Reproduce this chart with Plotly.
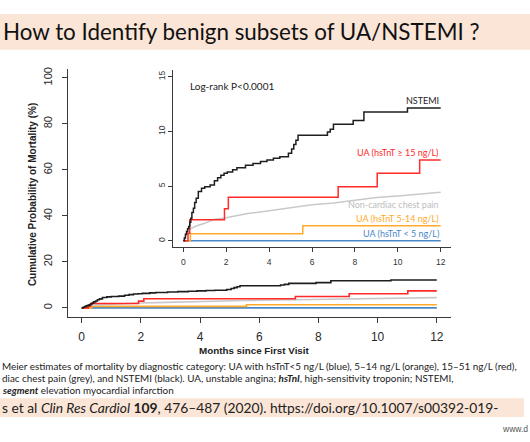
import plotly.graph_objects as go

W, H = 530, 442

# ---------------- data ----------------
months_ticks = [0, 2, 4, 6, 8, 10, 12]
main_y_ticks = [0, 20, 40, 60, 80, 100]
inset_y_ticks = [0, 5, 10, 15]

black_months = [0, 0.05, 0.1, 0.15, 0.2, 0.25, 0.3, 0.35, 0.4, 0.47, 0.53, 0.6, 0.7, 0.85,
                1.0, 1.25, 1.45, 1.6, 1.75, 1.9, 2.05, 2.3, 2.5, 2.9, 3.25, 3.6, 3.9, 4.2,
                4.5, 4.9, 5.05, 5.15, 5.25, 5.35, 6.72, 6.85, 7.0, 7.92, 8.42, 10.45, 12.0]
black_pct = [0, 0.26, 0.6, 0.86, 1.1, 1.32, 1.7, 2.07, 2.6, 2.98, 3.5, 3.9, 4.5, 4.8,
             4.95, 5.1, 5.5, 5.77, 6.0, 6.17, 6.3, 6.5, 6.68, 6.9, 7.07, 7.25, 7.38, 7.55,
             7.68, 8.0, 8.4, 8.8, 9.2, 9.65, 9.95, 10.2, 10.65, 11.0, 11.77, 12.14, 12.14]

red_months = [0, 0.22, 0.3, 1.92, 2.1, 7.22, 9.04, 11.02, 12.0]
red_pct = [0, 0.7, 1.93, 2.93, 3.98, 4.95, 6.17, 7.38, 7.38]

grey_months = [0, 0.1, 0.2, 0.33, 0.6, 1.0, 1.4, 2.0, 2.5, 3.0, 3.5, 4.0, 4.5, 5.0, 5.5,
               6.0, 7.0, 8.0, 8.5, 9.0, 10.0, 11.0, 12.0]
grey_pct = [0, 0.4, 0.8, 1.1, 1.35, 1.6, 1.95, 2.1, 2.3, 2.5, 2.62, 2.75, 2.9, 3.05, 3.2,
            3.3, 3.45, 3.7, 3.8, 3.95, 4.1, 4.3, 4.45]

orange_months = [0, 0.33, 5.57, 12.0]
orange_pct = [0, 0.65, 1.38, 1.38]

blue_months = [0, 12.0]
blue_pct = [0, 0]

series_names = ["UA (hsTnT < 5 ng/L)", "UA (hsTnT 5-14 ng/L)", "Non-cardiac chest pain",
                "UA (hsTnT ≥ 15 ng/L)", "NSTEMI"]

# ---------------- styling ----------------
C_BLACK = "#1e1e1e"
C_RED = "#ff2a2a"
C_GREY = "#c9c9c9"
C_ORANGE = "#ffaa2a"
C_BLUE = "#4a87c6"
AX = "#3a3a3a"
SANS = "Liberation Sans, Arial, sans-serif"
CAL = "Lato, Open Sans, sans-serif"


def px(x):
    return x / W


def py(y):
    return 1 - y / H


series = [
    (blue_months, blue_pct, C_BLUE, "linear"),
    (orange_months, orange_pct, C_ORANGE, "hv"),
    (grey_months, grey_pct, C_GREY, "linear"),
    (red_months, red_pct, C_RED, "hv"),
    (black_months, black_pct, C_BLACK, "hv"),
]

fig = go.Figure()
for (xs, ys, col, shp), name in zip(series, series_names):
    fig.add_trace(go.Scatter(x=xs, y=ys, mode="lines", name=name,
                             line=dict(color=col, width=1.6, shape=shp),
                             xaxis="x", yaxis="y", showlegend=False, hoverinfo="skip"))
for (xs, ys, col, shp), name in zip(series, series_names):
    fig.add_trace(go.Scatter(x=xs, y=ys, mode="lines", name=name,
                             line=dict(color=col, width=1.5, shape=shp),
                             xaxis="x2", yaxis="y2", showlegend=False, hoverinfo="skip"))

axis_common = dict(showgrid=False, zeroline=False, showline=True, linecolor=AX, linewidth=1,
                   ticks="outside", tickcolor=AX, tickwidth=1, mirror=False)

fig.update_layout(
    width=W, height=H,
    margin=dict(l=0, r=0, t=0, b=0),
    paper_bgcolor="white", plot_bgcolor="white",
    xaxis=dict(domain=[px(67.5), px(451)], range=[-0.48, 12.48], anchor="y",
               tickvals=months_ticks, ticklen=5, ticklabelstandoff=4,
               tickfont=dict(family=SANS, size=12, color="#2a2a2a"), **axis_common),
    yaxis=dict(domain=[py(316.5), py(67)], range=[-4, 104], anchor="x",
               tickvals=main_y_ticks, ticklen=5, tickangle=-90, ticklabelstandoff=5,
               tickfont=dict(family=SANS, size=11, color="#2a2a2a"), **axis_common),
    xaxis2=dict(domain=[px(173), px(451)], range=[-0.48, 12.48], anchor="y2",
                tickvals=months_ticks, ticklen=4, ticklabelstandoff=2,
                tickfont=dict(family=SANS, size=8.5, color="#333"), **axis_common),
    yaxis2=dict(domain=[py(246.5), py(68.5)], range=[-0.6, 15.6], anchor="x2",
                tickvals=inset_y_ticks, ticklen=4, tickangle=-90,
                tickfont=dict(family=SANS, size=8.5, color="#333"), **axis_common),
)

shapes = [
    dict(type="rect", xref="paper", yref="paper", x0=0, x1=1, y0=py(48), y1=py(12),
         fillcolor="#fbe5d6", line=dict(width=0), layer="below"),
    dict(type="rect", xref="paper", yref="paper", x0=0, x1=px(524), y0=py(417), y1=py(398),
         fillcolor="#fbe5d6", line=dict(width=0), layer="below"),
]
fig.update_layout(shapes=shapes)

ann = []


def add(text, x, y, size, color="#111", family=CAL, xanchor="left", angle=0):
    ann.append(dict(text=text, x=px(x), y=py(y), xref="paper", yref="paper", showarrow=False,
                    xanchor=xanchor, yanchor="middle", textangle=angle,
                    font=dict(family=family, size=size, color=color)))


add("How to Identify benign subsets of UA/NSTEMI ?", 1, 30, 22.4, "#111")
add("<b>Cumulative Probability of Mortality (%)</b>", 32, 194, 10, "#222", SANS, "center", -90)
add("<b>Months since First Visit</b>", 254, 350, 9.8, "#222", SANS, "center")
add("Log-rank P<0.0001", 188, 84, 10, "#222")
label_y = [232.5, 217.5, 203.5, 151, 98.5]
label_col = [C_BLUE, C_ORANGE, "#bdbdbd", C_RED, C_BLACK]
for name, ly, lc in zip(series_names, label_y, label_col):
    add(name, 441, ly, 9, lc, CAL, "right")

add("Meier estimates of mortality by diagnostic category: UA with hsTnT<5 ng/L (blue), 5–14 ng/L (orange), 15–51 ng/L (red),",
    0, 366, 9.9, "#222")
add("diac chest pain (grey), and NSTEMI (black). UA, unstable angina; <b><i>hsTnI</i></b>, high-sensitivity troponin; NSTEMI,",
    0, 378, 9.9, "#222")
add("<b><i>segment</i></b> elevation myocardial infarction", 0, 389.5, 9.9, "#222")
add("s et al <i>Clin Res Cardiol</i> <b>109</b>, 476–487 (2020). https://doi.org/10.1007/s00392-019-",
    0, 407.5, 13.8, "#222")
add("www.d", 500, 429, 8.5, "#555", SANS)

fig.update_layout(annotations=ann)
fig.write_html("out.html", config={"displayModeBar": False},
               post_script="document.body.style.margin='0';")
